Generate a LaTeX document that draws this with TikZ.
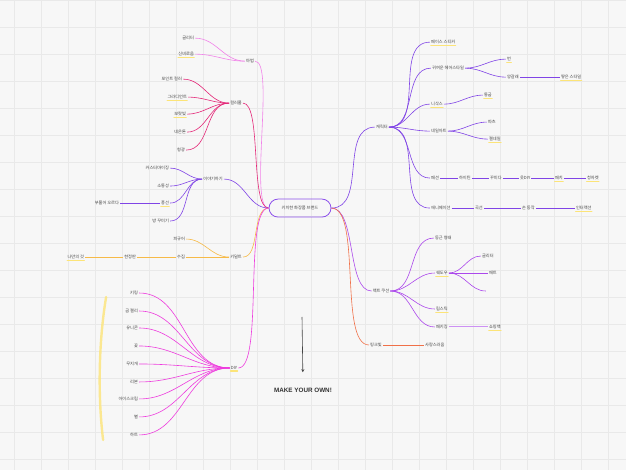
\documentclass[tikz,border=0pt]{standalone}
\usepackage{fontspec}
\setmainfont{Noto Sans CJK KR}
\newfontfamily\latinbold{Liberation Sans}
\usepackage{tikz}
\usetikzlibrary{arrows.meta, positioning}
\usepackage{xcolor}
\definecolor{paper}{RGB}{247, 247, 247}
\definecolor{gridgray}{RGB}{233, 233, 233}
\definecolor{inkgray}{RGB}{70, 70, 70}
\definecolor{heartpurple}{RGB}{140, 80, 235}
\definecolor{magicpink}{RGB}{236, 90, 226}
\definecolor{colorred}{RGB}{228, 40, 120}
\definecolor{storypurple}{RGB}{128, 68, 230}
\definecolor{kidultyellow}{RGB}{246, 186, 72}
\definecolor{diymagenta}{RGB}{238, 60, 222}
\definecolor{cushionviolet}{RGB}{172, 72, 236}
\definecolor{pinkorange}{RGB}{240, 112, 72}
\definecolor{markyellow}{RGB}{252, 228, 120}

\begin{document}
\begin{tikzpicture}[x=1pt, y=-1pt, font=\fontsize{4.2}{5}\selectfont]
    % Define styles
    \tikzstyle{word} = [inner sep=1pt, text=inkgray]
    \tikzstyle{brand} = [rectangle, draw=heartpurple, line width=0.8pt, rounded corners=9pt, minimum width=62pt, minimum height=18pt, text=inkgray]
    \tikzstyle{link} = [line width=0.6pt]
    \tikzstyle{marker} = [draw=markyellow, line width=1.6pt, line cap=round]
    \tikzstyle{gridline} = [draw=gridgray, line width=0.35pt]

    % Background grid
    \fill[paper] (0,0) rectangle (626,470);
    \foreach \gx in {14,41,...,626} \draw[gridline] (\gx,0) -- (\gx,470);
    \foreach \gy in {0,27,...,470} \draw[gridline] (0,\gy) -- (626,\gy);
    \useasboundingbox (0,0) rectangle (626,470);

    % Centre
    \node[brand] (brand) at (300,208) {키치한 화장품 브랜드};

    % Left branches
    \node[word] (magic) at (250,61) {마법};
    \node[word, anchor=east] (glitterA) at (195,38) {글리터};
    \node[word, anchor=east] (mystic) at (195,54) {신비로움};
    \node[word] (colorful) at (236,103) {컬러풀};
    \node[word, anchor=east] (point) at (183,79) {포인트 컬러};
    \node[word, anchor=east] (gradient) at (188,97) {그라디언트};
    \node[word, anchor=east] (violet) at (187,114) {보랏빛};
    \node[word, anchor=east] (neon) at (187,132) {네온톤};
    \node[word, anchor=east] (fluor) at (186,150) {형광};
    \node[word] (story) at (213,179) {이야기하기};
    \node[word, anchor=east] (custom) at (170,168) {커스터마이징};
    \node[word, anchor=east] (talk) at (170,186) {소통성};
    \node[word, anchor=east] (balloon) at (170,203) {풍선};
    \node[word, anchor=east] (puff) at (120,203) {부풀어 오르다};
    \node[word, anchor=east] (room) at (170,221) {방 꾸미기};
    \node[word] (kidult) at (236,257) {키덜트};
    \node[word, anchor=east] (figure) at (186,239) {피규어};
    \node[word, anchor=east] (collect) at (186,257) {수집};
    \node[word, anchor=east] (limited) at (137,257) {한정판};
    \node[word, anchor=east] (mine) at (85,257) {나만의 것};
    \node[word] (diy) at (234,368) {DIY};
    \node[word, anchor=east] (keyring) at (139,293) {키링};
    \node[word, anchor=east] (gummy) at (139,311) {곰 젤리};
    \node[word, anchor=east] (unicorn) at (139,328) {유니콘};
    \node[word, anchor=east] (flower) at (139,346) {꽃};
    \node[word, anchor=east] (rainbow) at (139,364) {무지개};
    \node[word, anchor=east] (ribbon) at (139,382) {리본};
    \node[word, anchor=east] (icecream) at (139,399) {아이스크림};
    \node[word, anchor=east] (star) at (139,417) {별};
    \node[word, anchor=east] (heart) at (139,435) {하트};

    % Right branches
    \node[word] (character) at (382,127) {캐릭터};
    \node[word, anchor=west] (sticker) at (430,42) {페이스 스티커};
    \node[word, anchor=west] (hair) at (431,68) {귀여운 헤어스타일};
    \node[word, anchor=west] (bun) at (506,59) {번};
    \node[word, anchor=west] (pigtail) at (506,77) {양갈래};
    \node[word, anchor=west] (braid) at (560,77) {땋은 스타일};
    \node[word, anchor=west] (socks) at (430,104) {니삭스};
    \node[word, anchor=west] (platform) at (483,95) {통굽};
    \node[word, anchor=west] (nail) at (430,131) {네일아트};
    \node[word, anchor=west] (parts) at (487,122) {파츠};
    \node[word, anchor=west] (gel) at (488,139) {젤네일};
    \node[word, anchor=west] (fashion) at (430,178) {패션};
    \node[word, anchor=west] (teen) at (458,178) {하이틴};
    \node[word, anchor=west] (deco) at (489,178) {꾸미다};
    \node[word, anchor=west] (clothdiy) at (519,178) {옷DIY};
    \node[word, anchor=west] (patch) at (554,178) {패치};
    \node[word, anchor=west] (denim) at (586,178) {청자켓};
    \node[word, anchor=west] (anime) at (430,208) {애니메이션};
    \node[word, anchor=west] (curve) at (474,208) {곡선};
    \node[word, anchor=west] (hand) at (521,208) {손 동작};
    \node[word, anchor=west] (interact) at (575,208) {인터랙션};
    \node[word] (cushion) at (381,291) {팩트 쿠션};
    \node[word, anchor=west] (round) at (434,238) {둥근 형태};
    \node[word, anchor=west] (shadow) at (435,273) {쉐도우};
    \node[word, anchor=west] (glitterB) at (481,256) {글리터};
    \node[word, anchor=west] (matte) at (488,273) {매트};
    \coordinate (blank) at (486,291);
    \node[word, anchor=west] (lipstick) at (435,309) {립스틱};
    \node[word, anchor=west] (package) at (435,327) {패키징};
    \node[word, anchor=west] (bag) at (488,327) {쇼핑백};
    \node[word] (pink) at (376,345) {핑크빛};
    \node[word, anchor=west] (lovely) at (424,345) {사랑스러움};

    % Slogan
    \coordinate (arrowtop) at (302,317);
    \node[text=black!80, font=\latinbold\bfseries\fontsize{6.3}{7}\selectfont] (slogan) at (303,390) {MAKE YOUR OWN!};

    % Highlights
    \foreach \n in {mystic, gradient, violet, balloon, mine, diy, sticker, bun, braid, socks, platform, gel, patch, denim, interact, shadow, lipstick, bag}
        \draw[marker] ([xshift=1pt, yshift=-0.4pt]\n.south west) -- ([xshift=-1pt, yshift=-0.4pt]\n.south east);
    \draw[marker, line width=2.4pt, opacity=0.8] (106,297) .. controls (98,345) and (98,400) .. (103,440);

    % Main branches
    \draw[link, magicpink!75] (brand.west) to[out=180, in=0, looseness=0.35] (magic.east);
    \draw[link, colorred] (brand.west) to[out=180, in=0, looseness=0.45] (colorful.east);
    \draw[link, storypurple] (brand.west) to[out=180, in=0] (story.east);
    \draw[link, kidultyellow] (brand.west) to[out=180, in=0, looseness=0.8] (kidult.east);
    \draw[link, diymagenta] (brand.west) to[out=180, in=0, looseness=0.4] (diy.east);
    \draw[link, storypurple] (brand.east) to[out=0, in=180] (character.west);
    \draw[link, cushionviolet] (brand.east) to[out=0, in=180, looseness=0.7] (cushion.west);
    \draw[link, pinkorange] (brand.east) to[out=0, in=180, looseness=0.55] (pink.west);

    % Left fans
    \foreach \c in {glitterA, mystic} \draw[link, magicpink!75] (magic.west) to[out=180, in=0] (\c.east);
    \foreach \c in {point, gradient, violet, neon, fluor} \draw[link, colorred] (colorful.west) to[out=180, in=0] (\c.east);
    \foreach \c in {custom, talk, balloon, room} \draw[link, storypurple] (story.west) to[out=180, in=0] (\c.east);
    \draw[link, storypurple] (balloon.west) -- (puff.east);
    \draw[link, kidultyellow] (kidult.west) to[out=180, in=0] (figure.east);
    \draw[link, kidultyellow] (kidult.west) -- (collect.east);
    \draw[link, kidultyellow] (collect.west) -- (limited.east);
    \draw[link, kidultyellow] (limited.west) -- (mine.east);
    \foreach \c in {keyring, gummy, unicorn, flower, rainbow, ribbon, icecream, star, heart} \draw[link, diymagenta] (diy.west) to[out=180, in=0] (\c.east);

    % Right fans
    \foreach \c in {sticker, hair, socks, nail, fashion, anime} \draw[link, storypurple] (character.east) to[out=0, in=180] (\c.west);
    \foreach \c in {bun, pigtail} \draw[link, storypurple] (hair.east) to[out=0, in=180] (\c.west);
    \draw[link, storypurple] (pigtail.east) -- (braid.west);
    \draw[link, storypurple] (socks.east) to[out=0, in=180] (platform.west);
    \foreach \c in {parts, gel} \draw[link, storypurple] (nail.east) to[out=0, in=180] (\c.west);
    \draw[link, storypurple] (fashion.east) -- (teen.west);
    \draw[link, storypurple] (teen.east) -- (deco.west);
    \draw[link, storypurple] (deco.east) -- (clothdiy.west);
    \draw[link, storypurple] (clothdiy.east) -- (patch.west);
    \draw[link, storypurple] (patch.east) -- (denim.west);
    \draw[link, storypurple] (anime.east) -- (curve.west);
    \draw[link, storypurple] (curve.east) -- (hand.west);
    \draw[link, storypurple] (hand.east) -- (interact.west);
    \foreach \c in {round, shadow, lipstick, package} \draw[link, cushionviolet] (cushion.east) to[out=0, in=180] (\c.west);
    \foreach \c in {glitterB, matte} \draw[link, cushionviolet] (shadow.east) to[out=0, in=180] (\c.west);
    \draw[link, cushionviolet] (shadow.east) to[out=0, in=180] (blank);
    \draw[link, cushionviolet!60, line width=1pt] (package.east) -- (bag.west);
    \draw[link, pinkorange] (pink.east) -- (lovely.west);

    % Arrow
    \draw[-{Stealth[length=3pt, width=3pt]}, inkgray, line width=0.6pt, shorten >=12pt] (arrowtop) -- (slogan.north);
\end{tikzpicture}
\end{document}
